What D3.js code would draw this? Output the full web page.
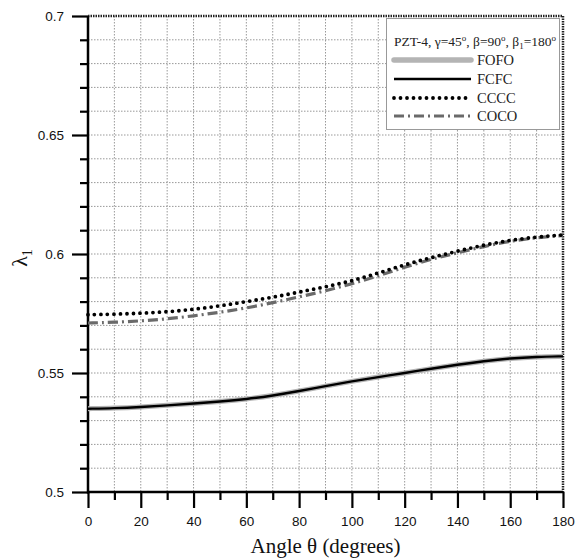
<!DOCTYPE html>
<html><head><meta charset="utf-8">
<script src="https://cdn.jsdelivr.net/npm/d3@7"></script>
<style>body{margin:0;background:#fff}svg{display:block}</style>
</head><body>
<svg id="c" width="575" height="560"></svg>
<script>
const theta = [0,10,20,30,40,50,60,70,80,90,100,110,120,130,140,150,160,170,180];
const FOFO = [0.5350,0.5352,0.5357,0.5364,0.5372,0.5380,0.5390,0.5405,0.5424,0.5445,0.5465,0.5483,0.5500,0.5518,0.5535,0.5550,0.5562,0.5568,0.5570];
const FCFC = [0.5350,0.5352,0.5357,0.5364,0.5372,0.5380,0.5390,0.5405,0.5424,0.5445,0.5465,0.5483,0.5500,0.5518,0.5535,0.5550,0.5562,0.5568,0.5570];
const CCCC = [0.5745,0.5747,0.5751,0.5757,0.5767,0.5782,0.5800,0.5818,0.5840,0.5862,0.5887,0.5920,0.5955,0.5985,0.6012,0.6038,0.6058,0.6072,0.6080];
const COCO = [0.5710,0.5713,0.5719,0.5727,0.5740,0.5755,0.5773,0.5795,0.5820,0.5845,0.5875,0.5908,0.5945,0.5978,0.6005,0.6032,0.6054,0.6069,0.6078];
const xTicks = [0,20,40,60,80,100,120,140,160,180];
const xMinor = [10,30,50,70,90,110,130,150,170];
const yTicks = [0.5,0.55,0.6,0.65,0.7];
const yMinor = [0.51,0.52,0.53,0.54,0.56,0.57,0.58,0.59,0.61,0.62,0.63,0.64,0.66,0.67,0.68,0.69];
const seriesNames = ["FOFO","FCFC","CCCC","COCO"];

const svg = d3.select("#c");
const L=88, R=563, T=16, B=492;
const x = d3.scaleLinear().domain([0,180]).range([L,R]);
const y = d3.scaleLinear().domain([0.5,0.7]).range([B,T]);

// grid
const g = svg.append("g");
g.selectAll(".vg").data(xTicks.concat(xMinor).filter(d=>d>0&&d<180)).join("line")
  .attr("x1",d=>x(d)).attr("x2",d=>x(d)).attr("y1",T).attr("y2",B)
  .attr("stroke","#999").attr("stroke-width",1).attr("stroke-dasharray","1.5,1.5");
g.selectAll(".hg").data(yTicks.concat(yMinor).filter(d=>d>0.5&&d<0.7)).join("line")
  .attr("y1",d=>y(d)).attr("y2",d=>y(d)).attr("x1",L).attr("x2",R)
  .attr("stroke","#999").attr("stroke-width",1).attr("stroke-dasharray","1.5,1.5");

// top & right borders
svg.append("line").attr("x1",L).attr("x2",R).attr("y1",T).attr("y2",T)
  .attr("stroke","#222").attr("stroke-width",2.5).attr("stroke-dasharray","1.5,1");
svg.append("line").attr("x1",R).attr("x2",R).attr("y1",T).attr("y2",B)
  .attr("stroke","#222").attr("stroke-width",2.5).attr("stroke-dasharray","1.5,1");

// axes
const xAxis = d3.axisBottom(x).tickValues(xTicks).tickSize(16).tickPadding(8).tickFormat(d3.format("d"));
const xAxisMinor = d3.axisBottom(x).tickValues(xMinor).tickSize(8).tickFormat("");
const yAxis = d3.axisLeft(y).tickValues(yTicks).tickSize(16).tickPadding(8).tickFormat(d=>String(+d.toFixed(2)));
const yAxisMinor = d3.axisLeft(y).tickValues(yMinor).tickSize(8).tickFormat("");

function styleAxis(sel){
  sel.select(".domain").remove();
  sel.selectAll(".tick line").attr("stroke","#000").attr("stroke-width",2.2);
  sel.selectAll(".tick text").attr("font-family","'Liberation Sans', Arial, sans-serif").attr("font-size",13.5).attr("fill","#111");
}
svg.append("g").attr("transform",`translate(0,${B})`).call(xAxis).call(styleAxis);
svg.append("g").attr("transform",`translate(0,${B})`).call(xAxisMinor).call(styleAxis);
svg.append("g").attr("transform",`translate(${L},0)`).call(yAxis).call(styleAxis);
svg.append("g").attr("transform",`translate(${L},0)`).call(yAxisMinor).call(styleAxis);
svg.append("line").attr("x1",L).attr("x2",L).attr("y1",T).attr("y2",B+1.5).attr("stroke","#000").attr("stroke-width",2.5);
svg.append("line").attr("x1",L-1).attr("x2",R).attr("y1",B).attr("y2",B).attr("stroke","#000").attr("stroke-width",2.5);

// lines
const line = d3.line().x((d,i)=>x(theta[i])).y(d=>y(d)).curve(d3.curveBasis);
const styles = {
  FOFO:{stroke:"#b4b4b4",w:5,dash:null,cap:"butt"},
  FCFC:{stroke:"#000",w:2.4,dash:null,cap:"butt"},
  CCCC:{stroke:"#000",w:3.8,dash:"0,6.5",cap:"round"},
  COCO:{stroke:"#6a6a6a",w:3.2,dash:"10,4,2,4",cap:"butt"}
};
const data = {FOFO,FCFC,CCCC,COCO};
["FOFO","FCFC","COCO","CCCC"].forEach(k=>{
  const s=styles[k];
  svg.append("path").datum(data[k]).attr("d",line).attr("fill","none")
    .attr("stroke",s.stroke).attr("stroke-width",s.w).attr("stroke-linecap",s.cap)
    .attr("stroke-dasharray",s.dash);
});

// legend
const lg = svg.append("g");
lg.append("rect").attr("x",386.5).attr("y",18.5).attr("width",173).attr("height",111)
  .attr("fill","#fff").attr("stroke","#999").attr("stroke-width",1);
const serif = "'Liberation Serif','Times New Roman',serif";
const tt = lg.append("text").attr("x",394).attr("y",46).attr("font-family",serif).attr("font-size",13.5).attr("fill","#222");
tt.append("tspan").text("PZT-4, γ=45");
tt.append("tspan").attr("dy",-5).attr("font-size",9).text("o");
tt.append("tspan").attr("dy",5).text(", β=90");
tt.append("tspan").attr("dy",-5).attr("font-size",9).text("o");
tt.append("tspan").attr("dy",5).text(", β");
tt.append("tspan").attr("dy",3).attr("font-size",9).text("1");
tt.append("tspan").attr("dy",-3).text("=180");
tt.append("tspan").attr("dy",-5).attr("font-size",9).text("o");
const ly = [60,79,98,116];
seriesNames.forEach((k,i)=>{
  const s=styles[k];
  lg.append("line").attr("x1",394).attr("x2",471).attr("y1",ly[i]).attr("y2",ly[i])
    .attr("stroke",s.stroke).attr("stroke-width",k==="FOFO"?5.5:s.w).attr("stroke-linecap",k==="FOFO"?"round":s.cap)
    .attr("stroke-dasharray",s.dash);
  lg.append("text").attr("x",477).attr("y",ly[i]+5).attr("font-family",serif).attr("font-size",14.5).attr("fill","#222").text(k);
});

// axis titles
svg.append("text").attr("x",(L+R)/2).attr("y",553).attr("text-anchor","middle")
  .attr("font-family",serif).attr("font-size",21).attr("fill","#111").text("Angle θ (degrees)");
const yl = svg.append("text").attr("transform","translate(27,258) rotate(-90)").attr("text-anchor","middle")
  .attr("font-family",serif).attr("font-size",22).attr("fill","#111");
yl.append("tspan").text("λ");
yl.append("tspan").attr("dy",5).attr("font-size",14).text("1");
</script>
</body></html>
